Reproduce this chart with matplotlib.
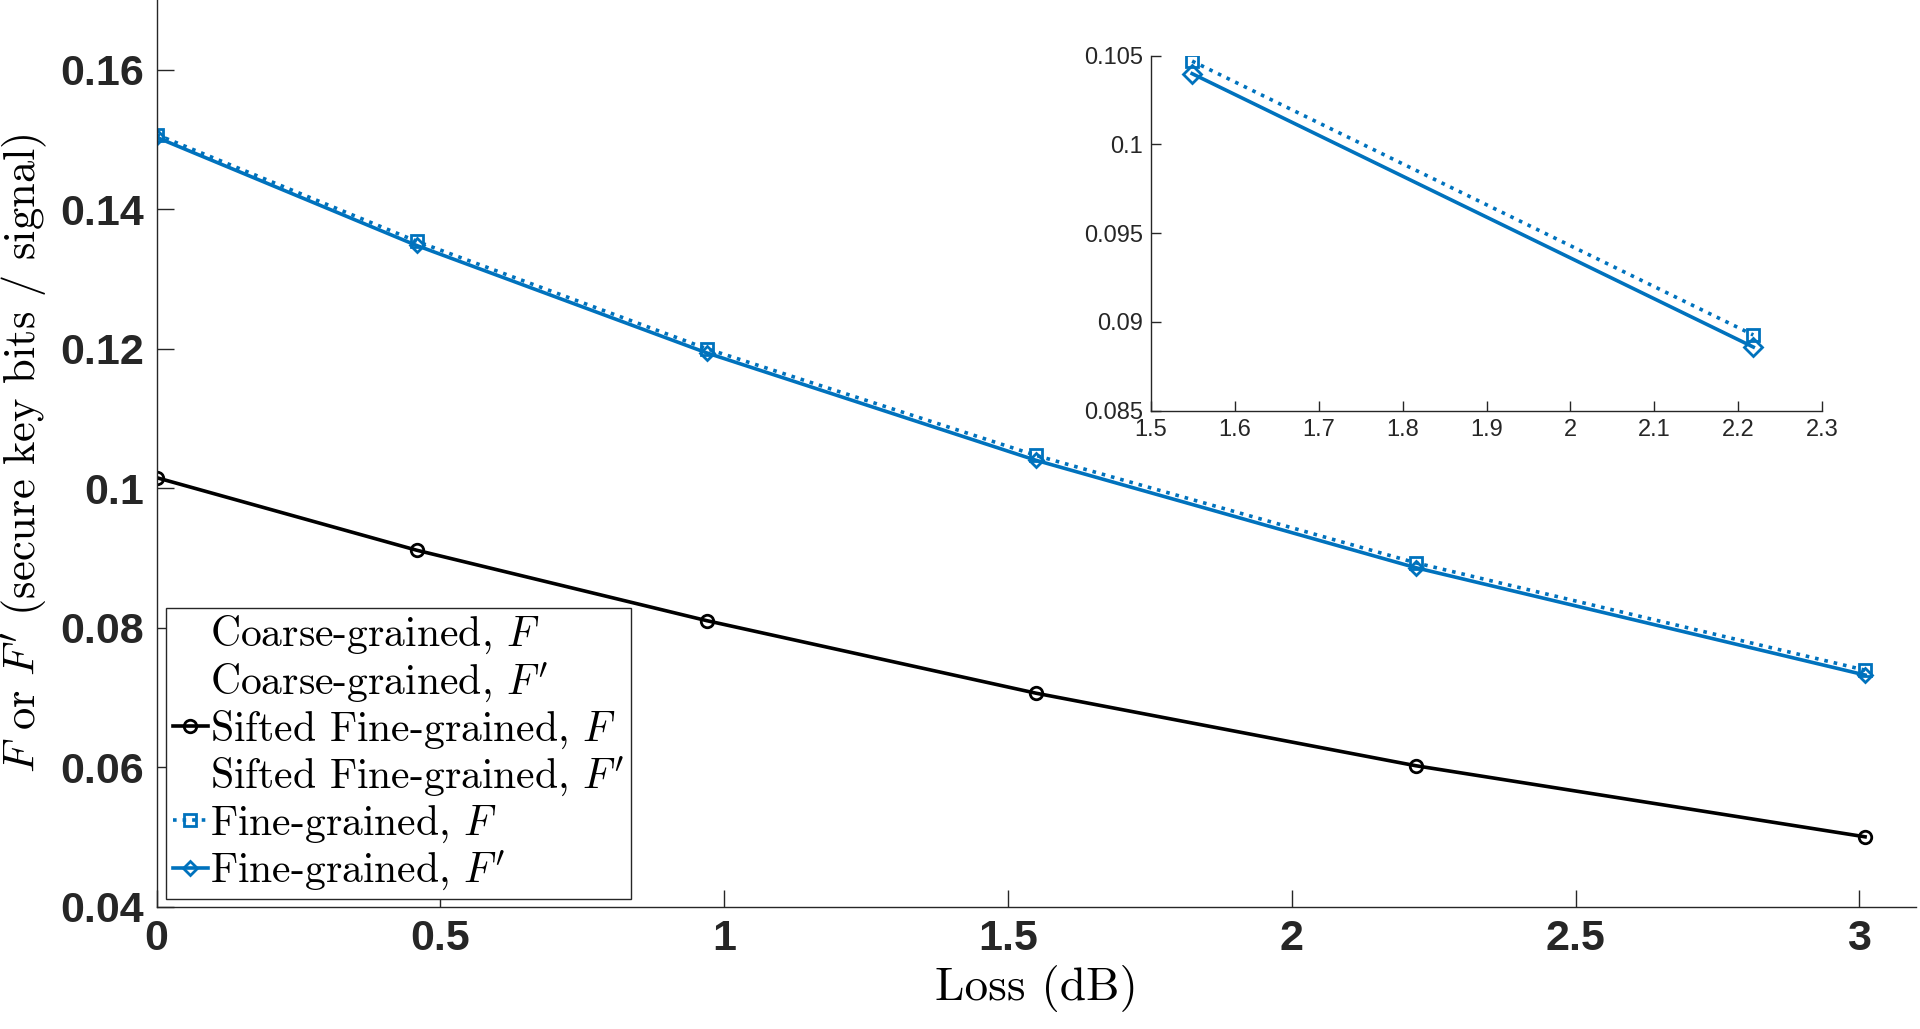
import matplotlib
matplotlib.use('Agg')
import matplotlib.pyplot as plt
from matplotlib.lines import Line2D

plt.rcParams['mathtext.fontset'] = 'cm'
plt.rcParams['axes.formatter.use_mathtext'] = True

# ---- data ----
loss_db = [0.0, 0.458, 0.969, 1.549, 2.218, 3.010]
coarse_F = [0.1015, 0.0911, 0.0810, 0.0706, 0.0602, 0.0500]
fine_F = [0.1507, 0.1354, 0.1200, 0.1047, 0.0893, 0.0739]
fine_Fp = [0.1503, 0.1348, 0.1194, 0.1040, 0.0886, 0.0732]

inset_x = [1.549, 2.218]
inset_F = [0.10469, 0.08926]
inset_Fp = [0.10398, 0.08858]

labels = ['Coarse-grained, $F$',
          "Coarse-grained, $F'$",
          'Sifted Fine-grained, $F$',
          "Sifted Fine-grained, $F'$",
          'Fine-grained, $F$',
          "Fine-grained, $F'$"]

blue = '#0072BD'
tickfont = ['Liberation Sans', 'DejaVu Sans']
serif = ['cmr10', 'DejaVu Serif']

fig = plt.figure(figsize=(19.2, 10.29), dpi=100)
ax = fig.add_axes([0.0816, 0.119, 0.9164, 0.881])

ax.plot(loss_db, coarse_F, color='black', lw=2.6, marker='o', ms=9,
        mfc='none', mew=2)
ax.plot(loss_db, fine_F, color=blue, lw=2.6, ls=':', marker='s', ms=8,
        mfc='none', mew=2)
ax.plot(loss_db, fine_Fp, color=blue, lw=2.6, ls='-', marker='D', ms=7,
        mfc='none', mew=2)

ax.set_xlim(0, 3.1)
ax.set_ylim(0.04, 0.17)
ax.set_xticks([0, 0.5, 1, 1.5, 2, 2.5, 3])
ax.set_xticklabels(['0', '0.5', '1', '1.5', '2', '2.5', '3'])
ax.set_yticks([0.04, 0.06, 0.08, 0.1, 0.12, 0.14, 0.16])
ax.set_yticklabels(['0.04', '0.06', '0.08', '0.1', '0.12', '0.14', '0.16'])
ax.tick_params(direction='in', length=12, width=1, labelsize=31, pad=9,
               colors='#262626')
for lab in ax.get_xticklabels() + ax.get_yticklabels():
    lab.set_family(tickfont)
    lab.set_fontweight('bold')
ax.spines['top'].set_visible(False)
ax.spines['right'].set_visible(False)
for s in ('left', 'bottom'):
    ax.spines[s].set_color('#262626')
    ax.spines[s].set_linewidth(1)

ax.set_xlabel('Loss (dB)', fontsize=34, family=serif, labelpad=4)
ax.set_ylabel("$F$ or $F'$ (secure key bits / signal)", fontsize=32,
              family=serif, labelpad=8)

# legend: only some rows carry a visible handle
empty = Line2D([], [], color='none')
h_black = Line2D([], [], color='black', lw=2.6, marker='o', ms=9,
                 mfc='none', mew=2)
h_sq = Line2D([], [], color=blue, lw=2.6, ls=':', marker='s', ms=8,
              mfc='none', mew=2)
h_di = Line2D([], [], color=blue, lw=2.6, marker='D', ms=7,
              mfc='none', mew=2)
leg = ax.legend([empty, empty, h_black, empty, h_sq, h_di], labels,
                loc='lower left', bbox_to_anchor=(0.0867, 0.126),
                bbox_transform=fig.transFigure,
                prop={'family': serif, 'size': 30},
                frameon=True, fancybox=False, framealpha=1,
                edgecolor='#262626', handlelength=0.85, handletextpad=0.05,
                borderpad=0.15, labelspacing=0.1, borderaxespad=0)
leg.get_frame().set_linewidth(1)

# inset
ins = fig.add_axes([0.5995, 0.601, 0.3495, 0.345])
ins.plot(inset_x, inset_F, color=blue, lw=2.6, ls=':', marker='s', ms=9,
         mfc='none', mew=2)
ins.plot(inset_x, inset_Fp, color=blue, lw=2.6, ls='-', marker='D', ms=9,
         mfc='none', mew=2)
ins.set_xlim(1.5, 2.3)
ins.set_ylim(0.085, 0.105)
ins.set_xticks([1.5, 1.6, 1.7, 1.8, 1.9, 2.0, 2.1, 2.2, 2.3])
ins.set_xticklabels(['1.5', '1.6', '1.7', '1.8', '1.9', '2', '2.1', '2.2', '2.3'])
ins.set_yticks([0.085, 0.09, 0.095, 0.1, 0.105])
ins.set_yticklabels(['0.085', '0.09', '0.095', '0.1', '0.105'])
ins.tick_params(direction='in', length=7, width=1, labelsize=17, pad=6,
                colors='#262626')
for lab in ins.get_xticklabels() + ins.get_yticklabels():
    lab.set_family(['Liberation Sans Narrow', 'Liberation Sans', 'DejaVu Sans'])
ins.spines['top'].set_visible(False)
ins.spines['right'].set_visible(False)
for s in ('left', 'bottom'):
    ins.spines[s].set_color('#262626')
    ins.spines[s].set_linewidth(1)

fig.savefig('out.png', dpi=100)
